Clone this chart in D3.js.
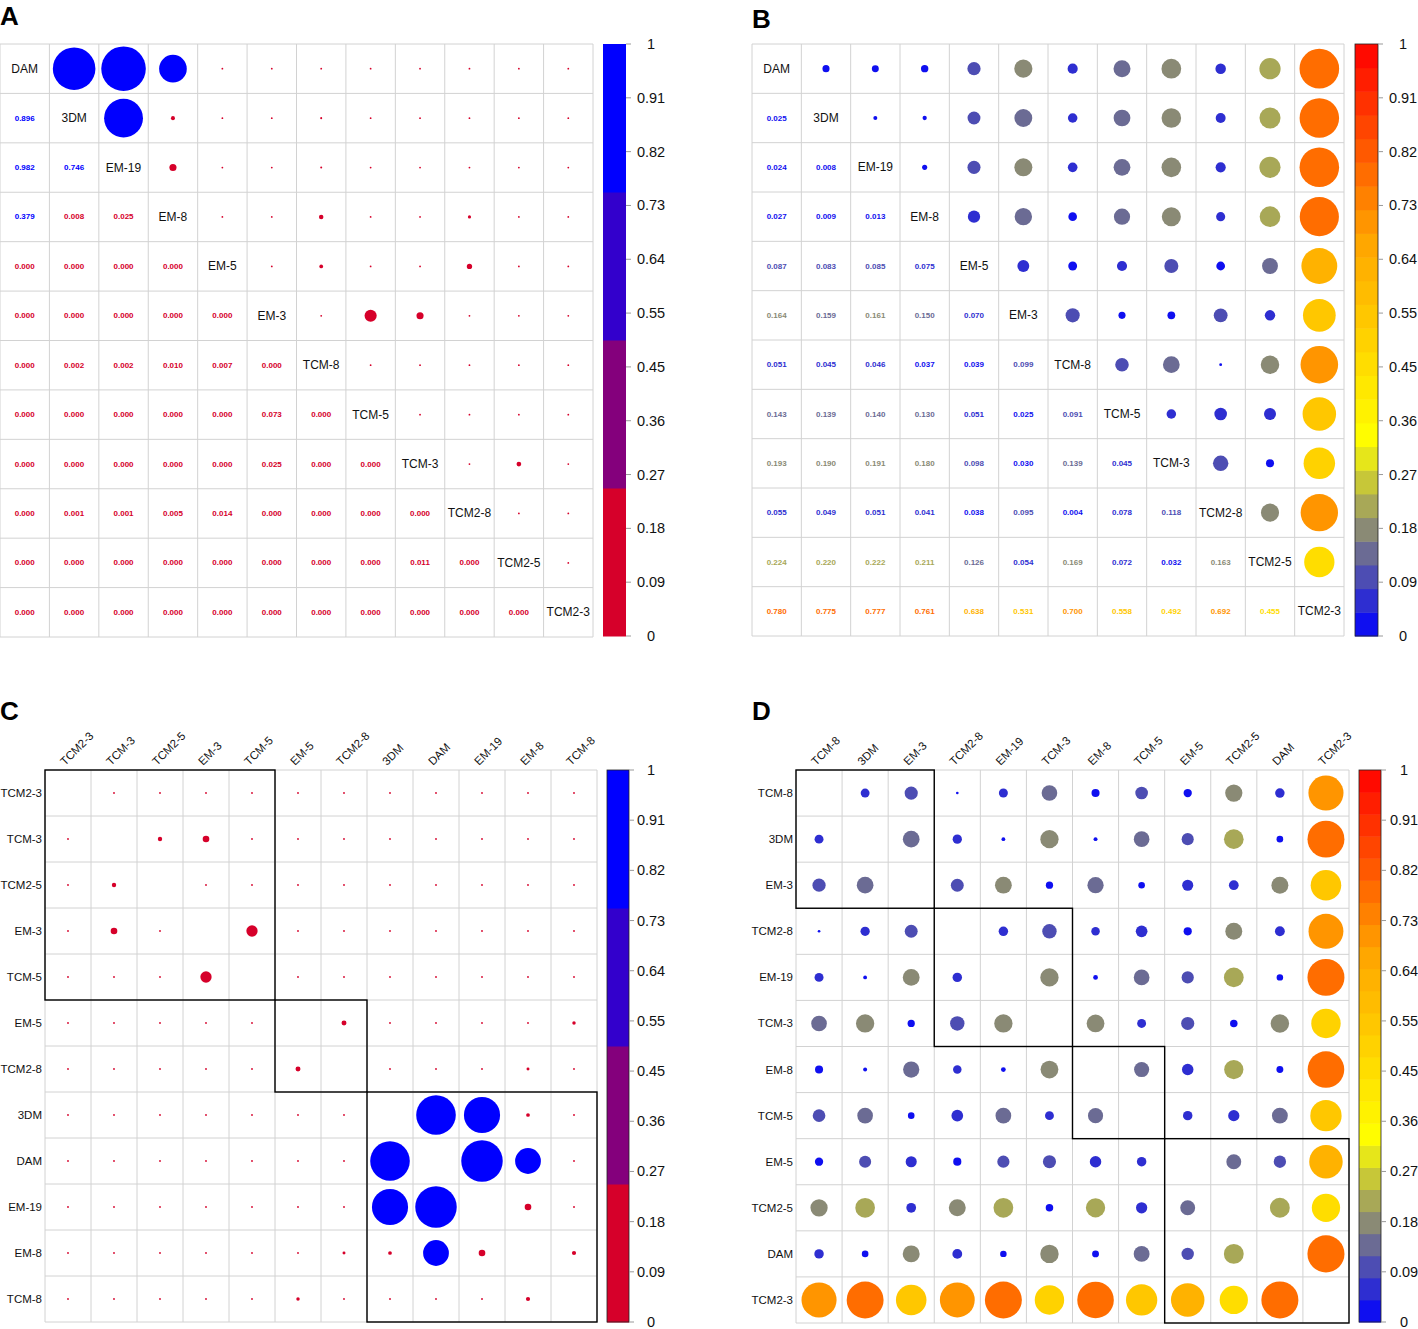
<!DOCTYPE html>
<html>
<head>
<meta charset="utf-8">
<script src="https://cdn.jsdelivr.net/npm/d3@7"></script>
<style>
  body { margin: 0; background: #fff; }
  svg { font-family: "Liberation Sans", Arial, sans-serif; }
</style>
</head>
<body>
<svg id="chart" width="1418" height="1329"></svg>
<script>
// sample names, in the order of panels A and B
const labels = ["DAM", "3DM", "EM-19", "EM-8", "EM-5", "EM-3", "TCM-8", "TCM-5", "TCM-3", "TCM2-8", "TCM2-5", "TCM2-3"];

// lower triangle of panel A (row i, columns 0..i-1)
const lowerA = [
  [],
  [0.896],
  [0.982, 0.746],
  [0.379, 0.008, 0.025],
  [0.000, 0.000, 0.000, 0.000],
  [0.000, 0.000, 0.000, 0.000, 0.000],
  [0.000, 0.002, 0.002, 0.010, 0.007, 0.000],
  [0.000, 0.000, 0.000, 0.000, 0.000, 0.073, 0.000],
  [0.000, 0.000, 0.000, 0.000, 0.000, 0.025, 0.000, 0.000],
  [0.000, 0.001, 0.001, 0.005, 0.014, 0.000, 0.000, 0.000, 0.000],
  [0.000, 0.000, 0.000, 0.000, 0.000, 0.000, 0.000, 0.000, 0.011, 0.000],
  [0.000, 0.000, 0.000, 0.000, 0.000, 0.000, 0.000, 0.000, 0.000, 0.000, 0.000]
];

// lower triangle of panel B
const lowerB = [
  [],
  [0.025],
  [0.024, 0.008],
  [0.027, 0.009, 0.013],
  [0.087, 0.083, 0.085, 0.075],
  [0.164, 0.159, 0.161, 0.150, 0.070],
  [0.051, 0.045, 0.046, 0.037, 0.039, 0.099],
  [0.143, 0.139, 0.140, 0.130, 0.051, 0.025, 0.091],
  [0.193, 0.190, 0.191, 0.180, 0.098, 0.030, 0.139, 0.045],
  [0.055, 0.049, 0.051, 0.041, 0.038, 0.095, 0.004, 0.078, 0.118],
  [0.224, 0.220, 0.222, 0.211, 0.126, 0.054, 0.169, 0.072, 0.032, 0.163],
  [0.780, 0.775, 0.777, 0.761, 0.638, 0.531, 0.700, 0.558, 0.492, 0.692, 0.455]
];

// clustered orders and cluster sizes for panels C and D
const orderC = ["TCM2-3", "TCM-3", "TCM2-5", "EM-3", "TCM-5", "EM-5", "TCM2-8", "3DM", "DAM", "EM-19", "EM-8", "TCM-8"];
const clustersC = [5, 2, 5];
const orderD = ["TCM-8", "3DM", "EM-3", "TCM2-8", "EM-19", "TCM-3", "EM-8", "TCM-5", "EM-5", "TCM2-5", "DAM", "TCM2-3"];
const clustersD = [3, 3, 2, 4];

// colour bar tick labels (0 .. 1 in steps of 1/11)
const barTicks = ["0", "0.09", "0.18", "0.27", "0.36", "0.45", "0.55", "0.64", "0.73", "0.82", "0.91", "1"];

const paletteA = ["#d6002a", "#84007c", "#3300cc", "#0000ff"];
const breaksA = [0.1, 0.2, 0.3];
const rampStops = ["#0000ff", "#ffff00", "#ffa500", "#ff0000"];
const nSteps = 25;

const svg = d3.select("#chart");

function fullMatrix(lower) {
  const n = labels.length;
  const m = d3.range(n).map(() => d3.range(n).map(() => 1));
  lower.forEach((row, i) => row.forEach((v, j) => { m[i][j] = v; m[j][i] = v; }));
  return m;
}

const matA = fullMatrix(lowerA);
const matB = fullMatrix(lowerB);

// colour scales
const colorA = d3.scaleThreshold().domain(breaksA).range(paletteA);
const barA = d3.scaleQuantize().domain([0, 1]).range(paletteA);
const ramp = d3.scaleLinear().domain([0, 1 / 3, 2 / 3, 1]).range(rampStops);
const colorB = d3.scaleQuantize().domain([0, 1]).range(d3.range(nSteps).map(i => ramp((i + 0.5) / nSteps)));

const fmt = d3.format(".3f");

function letter(x, y, t) {
  svg.append("text").attr("x", x).attr("y", y).text(t)
    .attr("font-size", 26).attr("font-weight", "bold");
}

function grid(g, x, y) {
  const n = labels.length;
  g.selectAll(".vline").data(d3.range(n + 1)).join("line")
    .attr("x1", d => x(0) + d * x.step()).attr("x2", d => x(0) + d * x.step())
    .attr("y1", y(0)).attr("y2", y(0) + n * y.step())
    .attr("stroke", "#d2d2d2").attr("stroke-width", 1);
  g.selectAll(".hline").data(d3.range(n + 1)).join("line")
    .attr("y1", d => y(0) + d * y.step()).attr("y2", d => y(0) + d * y.step())
    .attr("x1", x(0)).attr("x2", x(0) + n * x.step())
    .attr("stroke", "#d2d2d2").attr("stroke-width", 1);
}

function colorBar(o, barScale, border) {
  const g = svg.append("g");
  const y = d3.scaleLinear().domain([0, 1]).range([o.y0 + o.h, o.y0]);
  const cols = barScale.range();
  const step = 1 / cols.length;
  g.selectAll("rect.seg").data(cols).join("rect")
    .attr("x", o.x0).attr("width", o.w)
    .attr("y", (d, i) => y((i + 1) * step))
    .attr("height", (d, i) => y(i * step) - y((i + 1) * step) + 0.5)
    .attr("fill", d => d);
  if (border) {
    g.append("rect").attr("x", o.x0).attr("y", o.y0).attr("width", o.w).attr("height", o.h)
      .attr("fill", "none").attr("stroke", "#222").attr("stroke-width", 0.8);
  }
  g.selectAll("line.tick").data(barTicks).join("line")
    .attr("x1", o.x0 + o.w).attr("x2", o.x0 + o.w + 5)
    .attr("y1", (d, i) => y(i / 11)).attr("y2", (d, i) => y(i / 11))
    .attr("stroke", "#999");
  g.selectAll("text").data(barTicks).join("text")
    .attr("x", o.lx).attr("y", (d, i) => y(i / 11))
    .attr("text-anchor", "middle").attr("dominant-baseline", "central")
    .attr("font-size", 14.5).attr("fill", "#111")
    .text(d => d);
}

// panel with names on the diagonal, numbers below and circles above
function drawMixed(o, mat, color) {
  const n = labels.length;
  const g = svg.append("g");
  const x = d3.scaleBand().domain(d3.range(n)).range([o.x0, o.x0 + n * o.cell]);
  const y = d3.scaleBand().domain(d3.range(n)).range([o.y0, o.y0 + n * o.cell]);
  const r = d3.scaleSqrt().domain([0, 1]).range([0, 0.455 * o.cell]);
  grid(g, x, y);

  const cells = [];
  d3.range(n).forEach(i => d3.range(n).forEach(j => cells.push({ i, j, v: mat[i][j] })));

  g.selectAll("circle").data(cells.filter(d => d.j > d.i)).join("circle")
    .attr("cx", d => x(d.j) + x.bandwidth() / 2)
    .attr("cy", d => y(d.i) + y.bandwidth() / 2)
    .attr("r", d => Math.max(r(d.v), 0.9))
    .attr("fill", d => color(d.v));

  g.selectAll("text.num").data(cells.filter(d => d.j < d.i)).join("text")
    .attr("class", "num")
    .attr("x", d => x(d.j) + x.bandwidth() / 2)
    .attr("y", d => y(d.i) + y.bandwidth() / 2)
    .attr("text-anchor", "middle").attr("dominant-baseline", "central")
    .attr("font-size", 8).attr("font-weight", "bold")
    .attr("fill", d => color(d.v))
    .text(d => fmt(d.v));

  g.selectAll("text.diag").data(labels).join("text")
    .attr("class", "diag")
    .attr("x", (d, i) => x(i) + x.bandwidth() / 2)
    .attr("y", (d, i) => y(i) + y.bandwidth() / 2)
    .attr("text-anchor", "middle").attr("dominant-baseline", "central")
    .attr("font-size", 12).attr("fill", "#111")
    .text(d => d);
}

// clustered panel: circles everywhere except the diagonal, boxes round clusters
function drawFull(o, order, clusters, mat, color) {
  const n = order.length;
  const g = svg.append("g");
  const idx = order.map(name => labels.indexOf(name));
  const x = d3.scaleBand().domain(d3.range(n)).range([o.x0, o.x0 + n * o.cell]);
  const y = d3.scaleBand().domain(d3.range(n)).range([o.y0, o.y0 + n * o.cell]);
  const r = d3.scaleSqrt().domain([0, 1]).range([0, 0.455 * o.cell]);
  grid(g, x, y);

  const cells = [];
  d3.range(n).forEach(i => d3.range(n).forEach(j => {
    if (i !== j) cells.push({ i, j, v: mat[idx[i]][idx[j]] });
  }));

  g.selectAll("circle").data(cells).join("circle")
    .attr("cx", d => x(d.j) + x.bandwidth() / 2)
    .attr("cy", d => y(d.i) + y.bandwidth() / 2)
    .attr("r", d => Math.max(r(d.v), 0.9))
    .attr("fill", d => color(d.v));

  let start = 0;
  const boxes = clusters.map(s => { const b = { start, size: s }; start += s; return b; });
  g.selectAll("rect.box").data(boxes).join("rect")
    .attr("x", d => x(0) + d.start * x.step())
    .attr("y", d => y(0) + d.start * y.step())
    .attr("width", d => d.size * x.step())
    .attr("height", d => d.size * y.step())
    .attr("fill", "none").attr("stroke", "#000").attr("stroke-width", 1.4);

  g.selectAll("text.row").data(order).join("text")
    .attr("class", "row")
    .attr("x", o.x0 - 3)
    .attr("y", (d, i) => y(i) + y.bandwidth() / 2)
    .attr("text-anchor", "end").attr("dominant-baseline", "central")
    .attr("font-size", 11.5).attr("fill", "#111")
    .text(d => d);

  g.selectAll("text.col").data(order).join("text")
    .attr("class", "col")
    .attr("transform", (d, i) => `translate(${x(i) + x.bandwidth() / 2 - 3},${o.y0 - 4}) rotate(-45)`)
    .attr("font-size", 11.5).attr("fill", "#111")
    .text(d => d);
}

// A
letter(0, 25, "A");
drawMixed({ x0: 0, y0: 44, cell: 593 / 12 }, matA, colorA);
colorBar({ x0: 603, y0: 44, w: 23, h: 592, lx: 651 }, barA, false);

// B
letter(752, 28, "B");
drawMixed({ x0: 752, y0: 44, cell: 592 / 12 }, matB, colorB);
colorBar({ x0: 1355, y0: 44, w: 23, h: 592, lx: 1403 }, colorB, true);

// C
letter(0, 720, "C");
drawFull({ x0: 45, y0: 770, cell: 552 / 12 }, orderC, clustersC, matA, colorA);
colorBar({ x0: 607, y0: 770, w: 22, h: 552, lx: 651 }, barA, true);

// D
letter(752, 720, "D");
drawFull({ x0: 796, y0: 770, cell: 553 / 12 }, orderD, clustersD, matB, colorB);
colorBar({ x0: 1359, y0: 770, w: 22, h: 552, lx: 1404 }, colorB, true);
</script>
</body>
</html>
